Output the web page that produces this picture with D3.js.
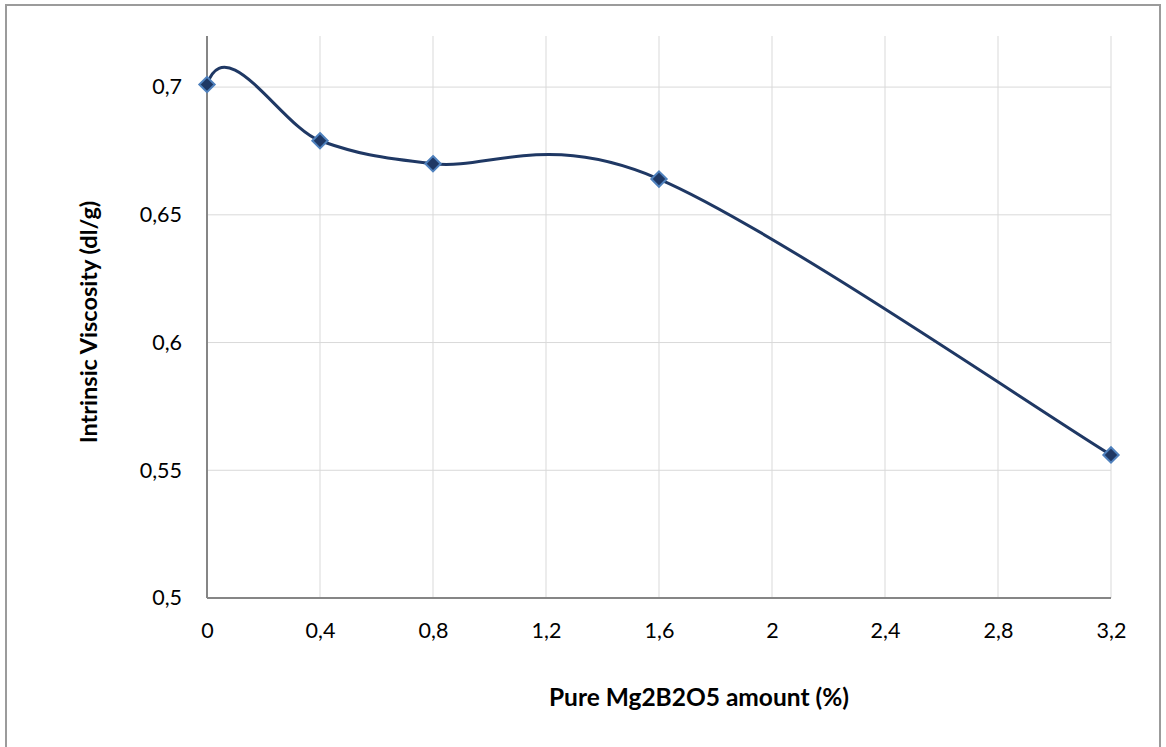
<!DOCTYPE html>
<html>
<head>
<meta charset="utf-8">
<script src="https://cdn.jsdelivr.net/npm/d3@7"></script>
<style>
  html, body { margin: 0; padding: 0; background: #ffffff; }
  svg { display: block; }
  text { font-family: Lato, "Open Sans", sans-serif; fill: #000; }
</style>
</head>
<body>
<svg id="chart" width="1166" height="747"></svg>
<script>
// ---- data ----
const xValues = [0, 0.4, 0.8, 1.6, 3.2];
const yValues = [0.701, 0.679, 0.670, 0.664, 0.556];
const xTicks = [0, 0.4, 0.8, 1.2, 1.6, 2, 2.4, 2.8, 3.2];
const yTicks = [0.5, 0.55, 0.6, 0.65, 0.7];
const xTitle = "Pure Mg2B2O5 amount (%)";
const yTitle = "Intrinsic Viscosity (dl/g)";

// ---- layout ----
const svg = d3.select("#chart");
const plot = { left: 207, right: 1111, top: 36, bottom: 598 };
const x = d3.scaleLinear().domain([0, 3.2]).range([plot.left, plot.right]);
const y = d3.scaleLinear().domain([0.5, 0.72]).range([plot.bottom, plot.top]);
const fmt = v => String(+v.toFixed(2)).replace(".", ",");

// outer border
svg.append("rect")
  .attr("x", 6).attr("y", 5).attr("width", 1154).attr("height", 760)
  .attr("fill", "none").attr("stroke", "#9b9b9b").attr("stroke-width", 2);

// gridlines
svg.append("g").selectAll("line").data(yTicks.filter(v => v > 0.5)).join("line")
  .attr("x1", plot.left).attr("x2", plot.right)
  .attr("y1", d => y(d)).attr("y2", d => y(d))
  .attr("stroke", "#d9d9d9").attr("stroke-width", 1);
svg.append("g").selectAll("line").data(xTicks.filter(v => v > 0)).join("line")
  .attr("x1", d => x(d)).attr("x2", d => x(d))
  .attr("y1", plot.top).attr("y2", plot.bottom)
  .attr("stroke", "#d9d9d9").attr("stroke-width", 1);

// axes
const xAxis = svg.append("g").attr("transform", `translate(0,${plot.bottom})`)
  .call(d3.axisBottom(x).tickValues(xTicks).tickSize(0).tickPadding(25).tickFormat(fmt));
const yAxis = svg.append("g").attr("transform", `translate(${plot.left},0)`)
  .call(d3.axisLeft(y).tickValues(yTicks).tickSize(0).tickPadding(25).tickFormat(fmt));
[xAxis, yAxis].forEach(a => {
  a.select(".domain").attr("stroke", "#868686").attr("stroke-width", 2);
  a.selectAll("text").attr("font-family", "Lato, sans-serif").attr("font-size", 21.5).attr("fill", "#000");
});
yAxis.select(".domain").attr("d", `M0,${plot.top}V${plot.bottom}`);
xAxis.select(".domain").attr("d", `M${plot.left},0H${plot.right}`);

// axis titles
svg.append("text").attr("x", 699).attr("y", 706)
  .attr("text-anchor", "middle").attr("font-weight", "bold").attr("font-size", 24.5)
  .text(xTitle);
svg.append("text").attr("transform", `translate(97,${(plot.top + plot.bottom) / 2 + 5}) rotate(-90)`)
  .attr("text-anchor", "middle").attr("font-weight", "bold").attr("font-size", 23.5)
  .text(yTitle);

// ---- smoothed line (Excel-like bezier smoothing) ----
const pts = xValues.map((v, i) => [x(v), y(yValues[i])]);
const n = pts.length;
const tan = pts.map((p, i) => {
  const a = pts[Math.max(0, i - 1)], b = pts[Math.min(n - 1, i + 1)];
  return [(b[0] - a[0]) / 2, (b[1] - a[1]) / 2];
});
const path = d3.path();
path.moveTo(pts[0][0], pts[0][1]);
for (let i = 0; i < n - 1; i++) {
  const p = pts[i], q = pts[i + 1];
  let c1;
  if (i === 0) {
    // start tangent: perpendicular lift of the next tangent (Excel end overshoot)
    c1 = [p[0] + tan[1][1] * 0.5, p[1] - tan[1][0] * 0.5];
  } else {
    c1 = [p[0] + tan[i][0] / 3, p[1] + tan[i][1] / 3];
  }
  const c2 = [q[0] - tan[i + 1][0] / 3, q[1] - tan[i + 1][1] / 3];
  path.bezierCurveTo(c1[0], c1[1], c2[0], c2[1], q[0], q[1]);
}
svg.append("path").attr("d", path.toString())
  .attr("fill", "none").attr("stroke", "#1f3864").attr("stroke-width", 3)
  .attr("stroke-linejoin", "round");

// markers
svg.append("g").selectAll("path").data(xValues).join("path")
  .attr("transform", (d, i) => `translate(${x(d)},${y(yValues[i])})`)
  .attr("d", d3.symbol().type(d3.symbolDiamond2).size(150)())
  .attr("fill", "#1f3864").attr("stroke", "#4f81bd").attr("stroke-width", 2);
</script>
</body>
</html>
